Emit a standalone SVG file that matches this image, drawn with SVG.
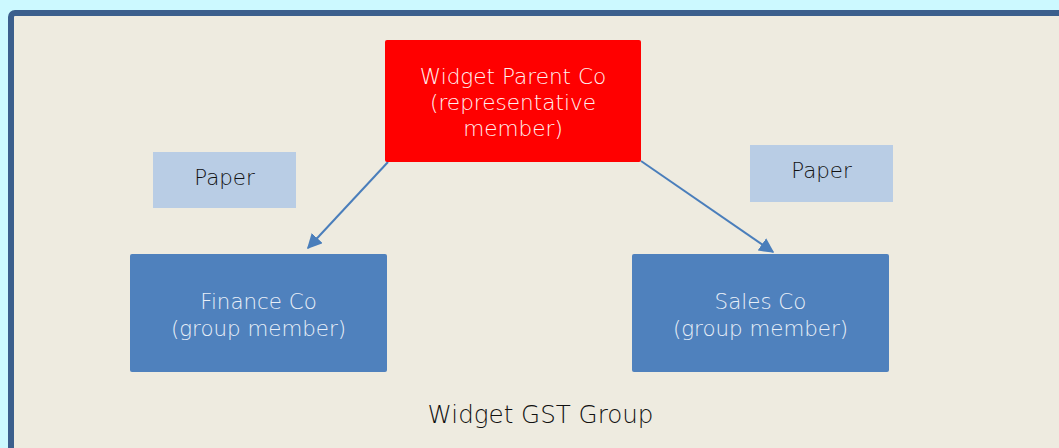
<svg xmlns="http://www.w3.org/2000/svg" width="1059" height="448" viewBox="0 0 1059 448">
  <style>
    text { font-family: "DejaVu Sans", "Liberation Sans", sans-serif; font-weight: 200; text-anchor: middle; }
    .lbl-light { fill: #FFF2F2; font-size: 21.6px; }
    .lbl-member { fill: #E8EFF8; font-size: 21.4px; }
    .lbl-dark { fill: #111111; font-size: 21.4px; }
    .title { fill: #111111; font-size: 24.6px; }
    .member { fill: #4F81BD; }
    .paper { fill: #B9CDE5; }
    .edge { stroke: #4A7EBB; stroke-width: 2; fill: none; }
  </style>
  <defs>
    <marker id="arrow" viewBox="0 0 10 10" refX="9" refY="5" markerWidth="7.5" markerHeight="7.5" markerUnits="strokeWidth" orient="auto">
      <path d="M0,0 L10,5 L0,10 Z" fill="#4A7EBB"/>
    </marker>
  </defs>

  <!-- backdrop and group frame -->
  <rect x="0" y="0" width="1059" height="448" fill="#CCF9FF"/>
  <rect id="group-frame" x="11" y="13" width="1080" height="460" rx="4" fill="#EEEBE0" stroke="#3B5F8D" stroke-width="6"/>

  <g id="connectors">
    <line class="edge" x1="388" y1="162" x2="308" y2="248" marker-end="url(#arrow)"/>
    <line class="edge" x1="641" y1="161" x2="773" y2="252" marker-end="url(#arrow)"/>
  </g>

  <g id="widget-parent-co">
    <rect x="385" y="40" width="256" height="122" rx="2" fill="#FF0000"/>
    <text class="lbl-light" x="513" y="84">Widget Parent Co</text>
    <text class="lbl-light" x="513" y="110">(representative</text>
    <text class="lbl-light" x="513" y="136">member)</text>
  </g>

  <g id="paper-left">
    <rect class="paper" x="153" y="152" width="143" height="56"/>
    <text class="lbl-dark" x="224.5" y="185">Paper</text>
  </g>

  <g id="paper-right">
    <rect class="paper" x="750" y="145" width="143" height="57"/>
    <text class="lbl-dark" x="821.5" y="178">Paper</text>
  </g>

  <g id="finance-co">
    <rect class="member" x="130" y="254" width="257" height="118" rx="2"/>
    <text class="lbl-member" x="258.5" y="309">Finance Co</text>
    <text class="lbl-member" x="258.5" y="336">(group member)</text>
  </g>

  <g id="sales-co">
    <rect class="member" x="632" y="254" width="257" height="118" rx="2"/>
    <text class="lbl-member" x="760.5" y="309">Sales Co</text>
    <text class="lbl-member" x="760.5" y="336">(group member)</text>
  </g>

  <g id="group-label">
    <text class="title" x="540.5" y="423">Widget GST Group</text>
  </g>
</svg>
